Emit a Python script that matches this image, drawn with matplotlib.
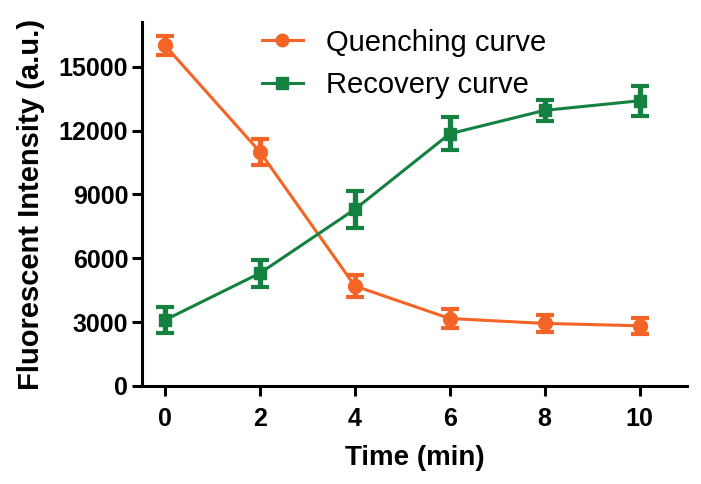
import matplotlib.pyplot as plt
import numpy as np

plt.rcParams['font.family'] = ['Liberation Sans', 'DejaVu Sans']

time = [0, 2, 4, 6, 8, 10]
quench = [16000, 11000, 4700, 3170, 2940, 2830]
quench_err = [450, 600, 500, 430, 400, 380]
recovery = [3100, 5300, 8300, 11850, 12950, 13400]
recovery_err = [620, 640, 880, 770, 490, 710]

orange = "#F36426"
green = "#158140"

fig = plt.figure(figsize=(7.01, 4.84), dpi=100)
ax = fig.add_axes([0.2026, 0.2025, 0.7774, 0.752])

ax.errorbar(time, quench, yerr=quench_err, color=orange, marker="o", markersize=10,
            linewidth=2.2, elinewidth=3.8, capsize=6.5, capthick=3, label="Quenching curve")
ax.errorbar(time, recovery, yerr=recovery_err, color=green, marker="s", markersize=9,
            linewidth=2.2, elinewidth=3.8, capsize=6.5, capthick=3, label="Recovery curve")

ax.set_xlim(-0.485, 11.0)
ax.set_ylim(0, 17100)
ax.set_xticks([0, 2, 4, 6, 8, 10])
ax.set_yticks([0, 3000, 6000, 9000, 12000, 15000])

for s in ["top", "right"]:
    ax.spines[s].set_visible(False)
for s in ["left", "bottom"]:
    ax.spines[s].set_linewidth(2.2)
ax.tick_params(width=2.2, length=7, labelsize=18)
ax.tick_params(axis="x", pad=8)
ax.tick_params(axis="y", pad=3)
for lab in ax.get_xticklabels() + ax.get_yticklabels():
    lab.set_fontweight("bold")

ax.set_xlabel("Time (min)", fontsize=20, fontweight="bold", labelpad=10)
ax.set_ylabel("Fluorescent Intensity (a.u.)", fontsize=21, fontweight="bold", labelpad=10)

handles, labels = ax.get_legend_handles_labels()
handles = [h[0] for h in handles]
ax.legend(handles, labels, loc="upper left", bbox_to_anchor=(0.3738, 0.941),
          bbox_transform=fig.transFigure, frameon=False, borderpad=0, borderaxespad=0,
          fontsize=21, handlelength=1.4, handletextpad=0.8, labelspacing=0.5,
          markerscale=0.9)

fig.savefig("out.png", dpi=100)
